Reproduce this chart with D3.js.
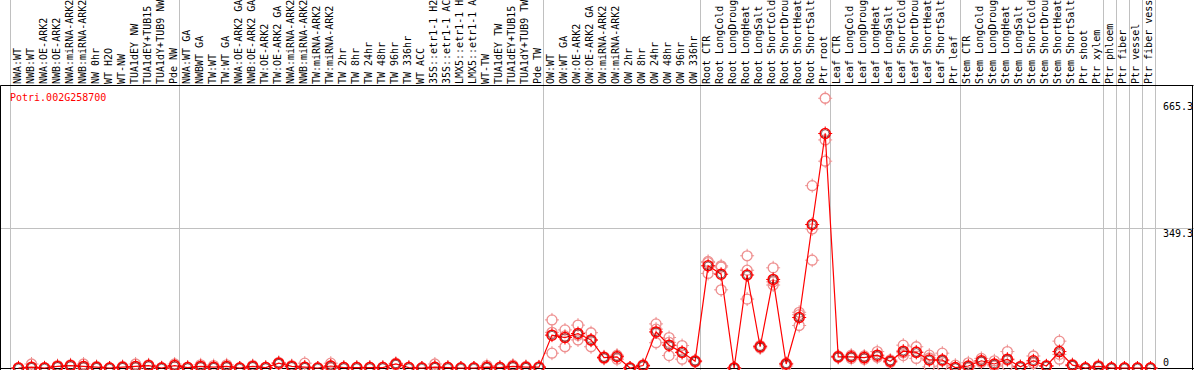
<!DOCTYPE html>
<html>
<head>
<meta charset="utf-8">
<script src="https://cdn.jsdelivr.net/npm/d3@7"></script>
<style>
  body { margin: 0; background: #fff; }
  svg { display: block; }
  text { font-family: "DejaVu Sans Mono", monospace; font-size: 10px; }
</style>
</head>
<body>
<div id="vis"></div>
<script>
var w = 1194;
var h = 370;

var gene = "Potri.002G258700";

// labels as shown (the chart keeps 14 characters)
var samples = ["NWA:WT", "NWB:WT", "NWA:OE-ARK2", "NWB:OE-ARK2", "NWA:miRNA-ARK2", "NWB:miRNA-ARK2",
  "NW 0hr", "WT H2O", "WT-NW", "TUA1dEY NW", "TUA1dEY+TUB15", "TUA1dY+TUB9 NW", "Pde NW",
  "NWA:WT GA", "NWBWT GA", "TW:WT", "TW:WT GA", "NWA:OE-ARK2 GA", "NWB:OE-ARK2 GA", "TW:OE-ARK2",
  "TW:OE-ARK2 GA", "NWA:miRNA-ARK2", "NWB:miRNA-ARK2", "TW:miRNA-ARK2", "TW:miRNA-ARK2",
  "TW 2hr", "TW 8hr", "TW 24hr", "TW 48hr", "TW 96hr", "TW 336hr", "WT ACC",
  "35S::etr1-1 H2", "35S::etr1-1 AC", "LMX5::etr1-1 H", "LMX5::etr1-1 A", "WT-TW",
  "TUA1dEY TW", "TUA1dEY+TUB15", "TUA1dY+TUB9 TW", "Pde TW",
  "OW:WT", "OW:WT GA", "OW:OE-ARK2", "OW:OE-ARK2 GA", "OW:miRNA-ARK2", "OW:miRNA-ARK2",
  "OW 2hr", "OW 8hr", "OW 24hr", "OW 48hr", "OW 96hr", "OW 336hr",
  "Root CTR", "Root LongCold", "Root LongDroug", "Root LongHeat", "Root LongSalt",
  "Root ShortCold", "Root ShortDrou", "Root ShortHeat", "Root ShortSalt", "Ptr root",
  "Leaf CTR", "Leaf LongCold", "Leaf LongDroug", "Leaf LongHeat", "Leaf LongSalt",
  "Leaf ShortCold", "Leaf ShortDrou", "Leaf ShortHeat", "Leaf ShortSalt", "Ptr leaf",
  "Stem CTR", "Stem LongCold", "Stem LongDroug", "Stem LongHeat", "Stem LongSalt",
  "Stem ShortCold", "Stem ShortDrou", "Stem ShortHeat", "Stem ShortSalt", "Ptr shoot", "Ptr xylem",
  "Ptr phloem", "Ptr fiber", "Ptr vessel", "Ptr fiber vess"];

// first sample index of each group
var groupStarts = [0, 13, 41, 53, 63, 73, 84, 85, 86, 87, 88];

var means = [0, 2, 0, 4, 6, 4, 2, 0, 2, 4, 6, 0, 6,
  1, 4, 2, 4, 0, 4, 1, 12, 4, 2, 0, 5, 1, 1, 1, 1, 10, 1, 0, 2, 1, 0, 0, 2, 1, 4, 2, 2,
  82, 76, 86, 70, 26, 28, 0, 6, 90, 57, 39, 17,
  255, 234, 0, 232, 53, 221, 10, 126, 358, 585,
  28, 28, 26, 32, 17, 42, 39, 20, 20, 1,
  5, 18, 10, 22, 3, 18, 5, 41, 7, 0, 4,
  0, 0, 0, 0];

var reps = [[0, 1, 0], [2, 10, 0], [0, 0, 1], [4, 6, 2], [6, 8, 4], [4, 10, 0], [2, 4, 0], [0, 0, 0], [2, 4, 0], [4, 10, 0], [6, 8, 4], [0, 1, 0], [6, 10, 2],
  [1, 2, 0], [4, 8, 1], [2, 6, 0], [4, 8, 1], [0, 0, 0], [4, 6, 2], [1, 2, 0], [12, 14, 10], [4, 6, 2],
  [2, 12, 0], [0, 0, 0], [5, 12, 0], [1, 2, 0], [1, 2, 0], [1, 2, 0], [1, 2, 0], [10, 12, 8], [1, 2, 0], [0, 0, 0],
  [2, 10, 0], [1, 2, 0], [0, 0, 0], [0, 0, 0], [2, 6, 0], [1, 2, 0], [4, 7, 1], [2, 4, 0], [2, 3, 1],
  [120, 37, 89], [95, 53, 80], [107, 70, 82], [88, 53, 69], [28, 24, 26], [22, 30, 32], [0, 0, 0], [6, 4, 8],
  [110, 63, 97], [76, 31, 64], [56, 22, 39], [17, 15, 19],
  [263, 236, 266], [255, 195, 252], [0, 0, 0], [280, 244, 172], [53, 50, 56], [250, 207, 215], [10, 5, 12],
  [139, 106, 133], [455, 347, 269], [673, 569, 516],
  [26, 30, 28], [28, 24, 32], [26, 22, 30], [41, 28, 27], [17, 14, 20], [57, 31, 38], [53, 24, 40],
  [32, 3, 25], [37, 5, 18], [7, 0, 0],
  [13, 2, 0], [24, 14, 16], [18, 5, 7], [41, 5, 20], [3, 2, 4], [30, 12, 12], [5, 4, 6], [67, 22, 34],
  [7, 5, 9], [0, 0, 0], [4, 2, 6],
  [0, 0, 0], [0, 0, 0], [0, 0, 0], [0, 0, 0]];

var yTicks = [0, 349.3, 665.3];

var canvas = d3.select("#vis").append("svg")
    .attr("width", w)
    .attr("height", h);

var idx = d3.range(samples.length);

var x = d3.scaleBand()
    .domain(idx)
    .range([10, 1155])
    .padding(0);

var y = d3.scaleLinear()
    .domain([0, 349.3])
    .range([368, 228]);

var px = function(i) { return x(i) + 8.5; };

// grid
canvas.selectAll(".vgrid")
    .data(groupStarts)
    .enter().append("line")
    .attr("x1", d => Math.round(x.range()[0] + d * x.step()) + 0.5)
    .attr("x2", d => Math.round(x.range()[0] + d * x.step()) + 0.5)
    .attr("y1", 0)
    .attr("y2", h)
    .attr("stroke", "#c0c0c0");

canvas.append("line")
    .attr("x1", 0).attr("x2", w)
    .attr("y1", Math.round(y(349.3)) + 0.5).attr("y2", Math.round(y(349.3)) + 0.5)
    .attr("stroke", "#c0c0c0");

// frame
canvas.append("path")
    .attr("d", "M0.5,85.5H" + (w - 0.5) + "M0.5,85.5V" + h + "M" + (w - 1.5) + ",85.5V" + h + "M0," + (h - 1.5) + "H" + w)
    .attr("stroke", "#000")
    .attr("fill", "none");

// sample labels
canvas.selectAll(".lab")
    .data(idx)
    .enter().append("text")
    .attr("transform", d => "translate(" + (x(d) + 10.5) + ",84) rotate(-90)")
    .attr("fill", "#000")
    .text(d => samples[d]);

// y labels
canvas.selectAll(".ylab")
    .data(yTicks)
    .enter().append("text")
    .attr("x", 1163)
    .attr("y", d => d == 0 ? 366 : y(d) + 9)
    .attr("fill", "#000")
    .text(d => d == 0 ? "0" : d3.format(".1f")(d));

canvas.append("text")
    .attr("x", 10)
    .attr("y", 101)
    .attr("fill", "red")
    .text(gene);

function marker(sel, color, width) {
    sel.append("circle")
        .attr("r", 5)
        .attr("fill", "none")
        .attr("stroke", color)
        .attr("stroke-width", width);
    sel.append("path")
        .attr("d", "M0,-7V-4M0,4V7M-7,0H-4M4,0H7")
        .attr("stroke", color)
        .attr("stroke-width", 1);
}

// replicates
var repPts = [];
reps.forEach(function(r, i) { r.forEach(function(v) { repPts.push({i: i, v: v}); }); });

canvas.selectAll(".rep")
    .data(repPts)
    .enter().append("g")
    .attr("transform", d => "translate(" + px(d.i) + "," + y(d.v) + ")")
    .call(marker, "#ee9090", 1.3);

// mean line
canvas.append("path")
    .datum(means)
    .attr("d", d3.line().x((d, i) => px(i)).y(d => y(d)))
    .attr("fill", "none")
    .attr("stroke", "red")
    .attr("stroke-width", 1.2);

var mg = canvas.selectAll(".mean")
    .data(means)
    .enter().append("g")
    .attr("transform", (d, i) => "translate(" + px(i) + "," + y(d) + ")");
mg.call(marker, "red", 1.5);
mg.append("circle")
    .attr("r", 3.8)
    .attr("fill", "none")
    .attr("stroke", "#400")
    .attr("stroke-width", 0.6);
</script>
</body>
</html>
